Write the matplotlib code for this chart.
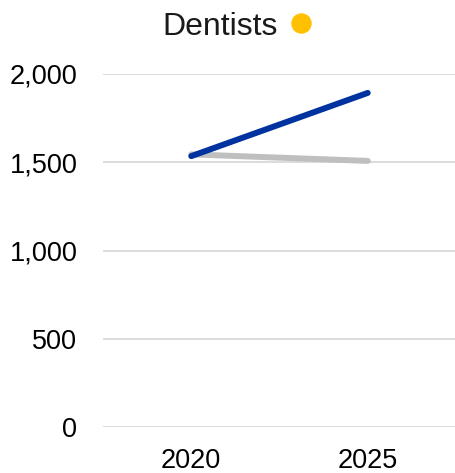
import matplotlib
matplotlib.use("Agg")
import matplotlib.pyplot as plt
from matplotlib.lines import Line2D

# --- data ---
years = ["2020", "2025"]
blue_values = [1535, 1893]
gray_values = [1545, 1508]
y_ticks = [0, 500, 1000, 1500, 2000]
title = "Dentists"

plt.rcParams['font.family'] = ['Liberation Sans', 'DejaVu Sans']

W, H = 456, 473
fig = plt.figure(figsize=(W / 100, H / 100), dpi=100)
ax = fig.add_axes([103 / W, 1 - 427.3 / H, 1 - 103 / W, (427.3 - 74) / H])

x = range(len(years))
ax.plot(x, gray_values, color='#bfbfbf', lw=4.3, solid_capstyle='round', zorder=3, clip_on=False)
ax.plot(x, blue_values, color='#0033a0', lw=4.3, solid_capstyle='round', zorder=4, clip_on=False)

ax.set_xlim(-0.5, len(years) - 0.5)
ax.set_ylim(0, 2000)
ax.set_xticks(list(x))
ax.set_xticklabels(years)
ax.set_yticks(y_ticks)
ax.set_yticklabels([f"{v:,}" for v in y_ticks])

ax.grid(axis='y', color='#d9d9d9', lw=1.3)
ax.set_axisbelow(True)
for s in ax.spines.values():
    s.set_visible(False)
ax.tick_params(axis='both', length=0, labelsize=19.5, colors='#000000')
ax.tick_params(axis='y', pad=18.5)
ax.tick_params(axis='x', pad=15)

# title with a yellow dot next to it
fig.text(220.5 / W, 1 - 35 / H, title, ha='center', va='baseline', fontsize=23, color='#1a1a1a')
fig.add_artist(Line2D([301 / W], [1 - 23.3 / H], marker='o', markersize=13.7,
                      color='#ffc000', transform=fig.transFigure))

fig.savefig("out.png", dpi=100)
